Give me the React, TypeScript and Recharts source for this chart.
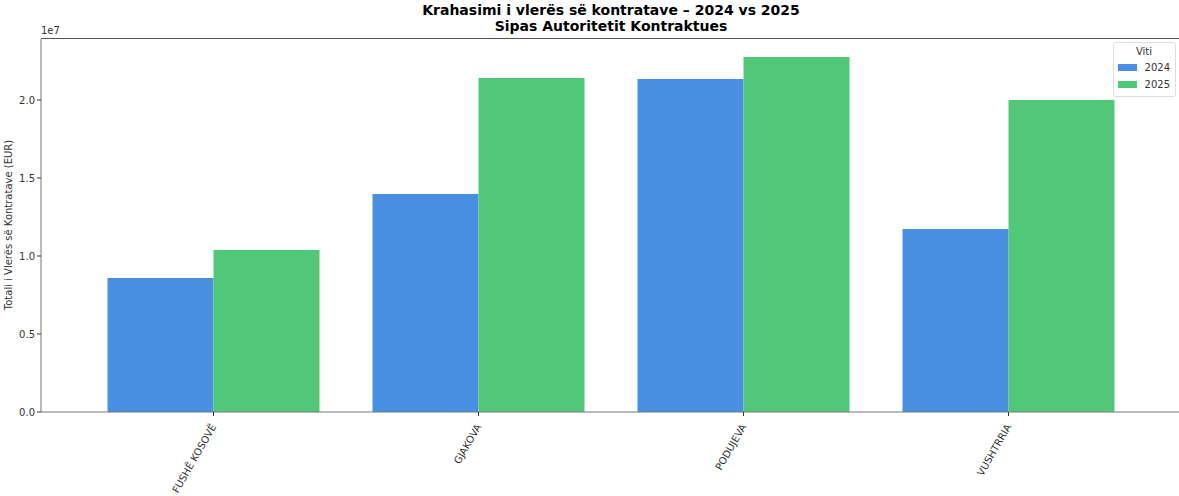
import React from "react";
import { BarChart, Bar, XAxis, YAxis } from "recharts";

const categories = ["FUSHË KOSOVË", "GJAKOVA", "PODUJEVA", "VUSHTRRIA"];
const values2024 = [8590000, 13970000, 21350000, 11730000];
const values2025 = [10380000, 21410000, 22760000, 20000000];
const yTicks = [0, 5000000, 10000000, 15000000, 20000000];

const BLUE = "#4a90e2";
const GREEN = "#50c878";
const FONT = "'DejaVu Sans', sans-serif";

const data = categories.map((c, i) => ({
  name: c,
  v2024: values2024[i],
  v2025: values2025[i],
}));

const legendItems = [
  { label: "2024", color: BLUE },
  { label: "2025", color: GREEN },
];

function XTick(props: any) {
  const { x, y, payload } = props;
  return (
    <g transform={`translate(${x - 3},${y + 5}) rotate(-60)`}>
      <text
        x={0}
        y={0}
        dy="0.71em"
        textAnchor="end"
        fontSize={10}
        fontFamily={FONT}
        fill="#333"
      >
        {payload.value}
      </text>
    </g>
  );
}

export default function App() {
  return (
    <div
      style={{
        position: "absolute",
        left: 0,
        top: 0,
        width: 1179,
        height: 496,
        overflow: "hidden",
        background: "#fff",
        fontFamily: FONT,
      }}
    >
      <div
        style={{
          position: "absolute",
          left: 0,
          width: 1222,
          top: 2,
          textAlign: "center",
          fontWeight: "bold",
          fontSize: 14,
          lineHeight: "16px",
          color: "#000",
        }}
      >
        Krahasimi i vlerës së kontratave – 2024 vs 2025
        <br />
        Sipas Autoritetit Kontraktues
      </div>
      <div
        style={{ position: "absolute", left: 41, top: 25, fontSize: 10, color: "#333" }}
      >
        1e7
      </div>
      <div
        style={{
          position: "absolute",
          left: 8,
          top: 225,
          fontSize: 10,
          color: "#333",
          whiteSpace: "nowrap",
          transform: "translate(-50%, -50%) rotate(-90deg)",
        }}
      >
        Totali i Vlerës së Kontratave (EUR)
      </div>
      <BarChart
        width={1182}
        height={496}
        data={data}
        margin={{ top: 39, right: 1, bottom: 0, left: 0 }}
        barCategoryGap="10%"
        barGap={0}
      >
        <XAxis
          dataKey="name"
          height={84}
          padding={{ left: 40, right: 40 }}
          tick={<XTick />}
          tickSize={4}
          stroke="#777"
          tickLine={{ stroke: "#333" }}
          interval={0}
        />
        <YAxis
          width={41}
          domain={[0, 23910000]}
          ticks={yTicks}
          tickFormatter={(v: number) => (v / 1e7).toFixed(1)}
          tick={{ fontSize: 10, fill: "#333", fontFamily: FONT }}
          tickSize={4}
          stroke="#777"
          tickLine={{ stroke: "#333" }}
          allowDataOverflow
        />
        <Bar dataKey="v2024" name="2024" fill={BLUE} isAnimationActive={false} />
        <Bar dataKey="v2025" name="2025" fill={GREEN} isAnimationActive={false} />
      </BarChart>
      <div
        style={{
          position: "absolute",
          left: 41,
          top: 38,
          width: 1140,
          height: 1,
          background: "#555",
        }}
      />
      {/* legend */}
      <div
        style={{
          position: "absolute",
          left: 1113,
          top: 42,
          width: 52,
          border: "1px solid #ddd",
          borderRadius: 3,
          background: "rgba(255,255,255,0.8)",
          padding: "3px 5px 3px 4px",
          fontSize: 10,
          color: "#333",
        }}
      >
        <div style={{ textAlign: "center", marginBottom: 2 }}>Viti</div>
        {legendItems.map((it) => (
          <div
            key={it.label}
            style={{ display: "flex", alignItems: "center", height: 17 }}
          >
            <span
              style={{
                display: "inline-block",
                width: 20,
                height: 7,
                background: it.color,
                marginRight: 8,
              }}
            />
            <span>{it.label}</span>
          </div>
        ))}
      </div>
    </div>
  );
}
